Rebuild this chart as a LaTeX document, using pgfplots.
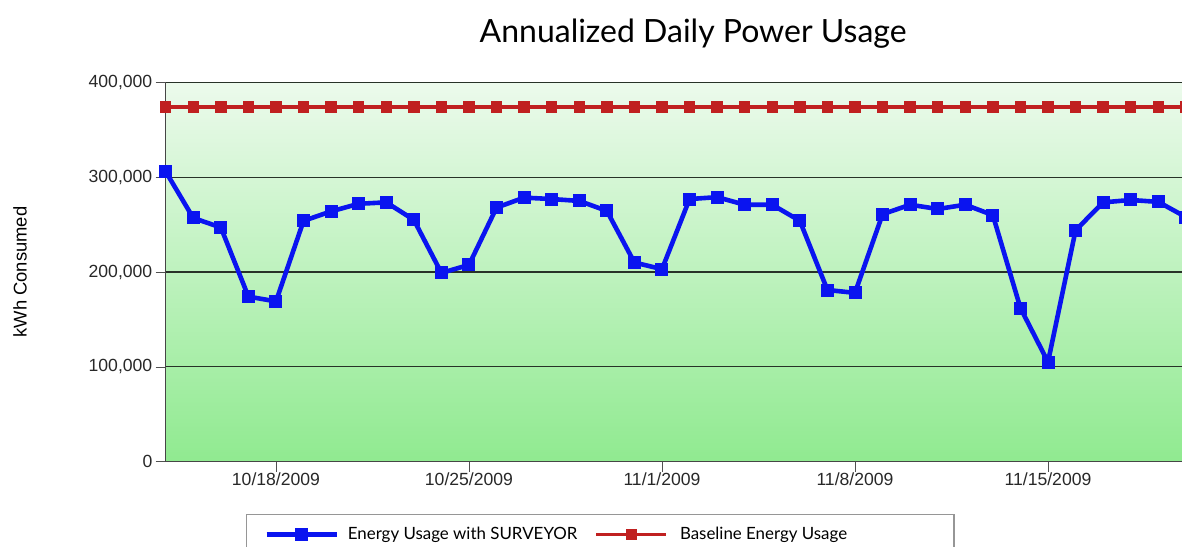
\documentclass[border=0pt]{standalone}
\usepackage{fontspec}
\setmainfont{Liberation Sans}
\newfontfamily\gill{Lato}
\usepackage{pgfplots}
\usepackage{pgfplotstable}
\pgfplotsset{compat=1.18}
\definecolor{myblue}{RGB}{10,20,240}
\definecolor{myred}{RGB}{192,32,32}
\definecolor{bgtop}{RGB}{236,250,236}
\definecolor{bgbot}{RGB}{144,234,144}
\definecolor{gridc}{RGB}{40,50,40}
\pgfplotstableread{
day val
0 306000
1 257000
2 247000
3 174000
4 169000
5 254000
6 264000
7 272000
8 273500
9 255000
10 199000
11 207500
12 268000
13 278500
14 277000
15 275000
16 264500
17 210000
18 203000
19 277000
20 279000
21 271000
22 271000
23 254000
24 181000
25 178000
26 261000
27 271000
28 266500
29 271000
30 260000
31 162000
32 105000
33 244000
34 273500
35 276000
36 274000
37 258000
}\surveyor
\pgfplotstableread{
day val
0 374000
1 374000
2 374000
3 374000
4 374000
5 374000
6 374000
7 374000
8 374000
9 374000
10 374000
11 374000
12 374000
13 374000
14 374000
15 374000
16 374000
17 374000
18 374000
19 374000
20 374000
21 374000
22 374000
23 374000
24 374000
25 374000
26 374000
27 374000
28 374000
29 374000
30 374000
31 374000
32 374000
33 374000
34 374000
35 374000
36 374000
37 374000
}\baseline
\begin{document}
\begin{tikzpicture}
\begin{axis}[
  scale only axis,
  width=508.15pt, height=189.5pt,
  xmin=0, xmax=36.86, ymin=0, ymax=400000,
  clip=false,
  axis lines=left,
  axis line style={-, draw={rgb,255:red,70;green,70;blue,70}, line width=0.7pt},
  axis background/.style={shade, top color=bgtop, bottom color=bgbot},
  xtick={4,11,18,25,32},
  xticklabels={10/18/2009,10/25/2009,11/1/2009,11/8/2009,11/15/2009},
  ytick={0,100000,200000,300000,400000},
  scaled y ticks=false,
  tick align=outside,
  major tick length=5pt,
  tick style={draw={rgb,255:red,80;green,80;blue,80}},
  ymajorgrids,
  grid style={draw=gridc, line width=0.7pt},
  tick label style={font=\fontsize{8.8}{10}\selectfont, text={rgb,255:red,40;green,40;blue,40}},
  /pgf/number format/.cd, 1000 sep={,}, fixed, assume math mode=true, /pgfplots/.cd,
  yticklabel style={inner sep=1.5pt},
  xticklabel style={inner sep=0.5pt},
  ylabel={kWh Consumed},
  every axis y label/.style={at={(axis description cs:-0.1434,0.5)}, rotate=90, anchor=center, font=\fontsize{9.2}{11}\selectfont},
  title={Annualized Daily Power Usage},
  title style={at={(axis description cs:0.519,1)}, anchor=base, yshift=14pt, font=\gill\fontsize{16}{19}\selectfont},
  legend columns=2,
  legend style={at={(axis description cs:0.0787,-0.1385)}, anchor=north west,
    draw={rgb,255:red,150;green,150;blue,150}, line width=0.6pt,
    font=\gill\fontsize{8.45}{10}\selectfont, inner xsep=9pt, inner ysep=4pt,
    /tikz/every even column/.append style={column sep=6.5pt}},
  legend image code/.code={\draw[mark repeat=2,mark phase=2] plot coordinates {(0pt,0pt) (17.5pt,0pt) (35pt,0pt)};},
]
\addplot[myblue, line width=2.3pt, mark=square*, mark size=3pt, mark options={solid, line width=0.5pt}] table[x=day,y=val]{\surveyor};
\addlegendentry{\hspace{2.5pt}Energy Usage with SURVEYOR}
\addplot[myred, line width=1.8pt, mark=square*, mark size=2.6pt, mark options={solid, line width=0.5pt}] table[x=day,y=val]{\baseline};
\addlegendentry{\hspace{4pt}\makebox[126pt][l]{Baseline Energy Usage}}
\coordinate (SW) at (rel axis cs:0,0);
\coordinate (NE) at (rel axis cs:1,1);
\end{axis}
\pgfresetboundingbox
\path[use as bounding box] ([xshift=-82.85pt,yshift=-42.25pt]SW) rectangle ([yshift=41.25pt]NE);
\end{tikzpicture}
\end{document}
